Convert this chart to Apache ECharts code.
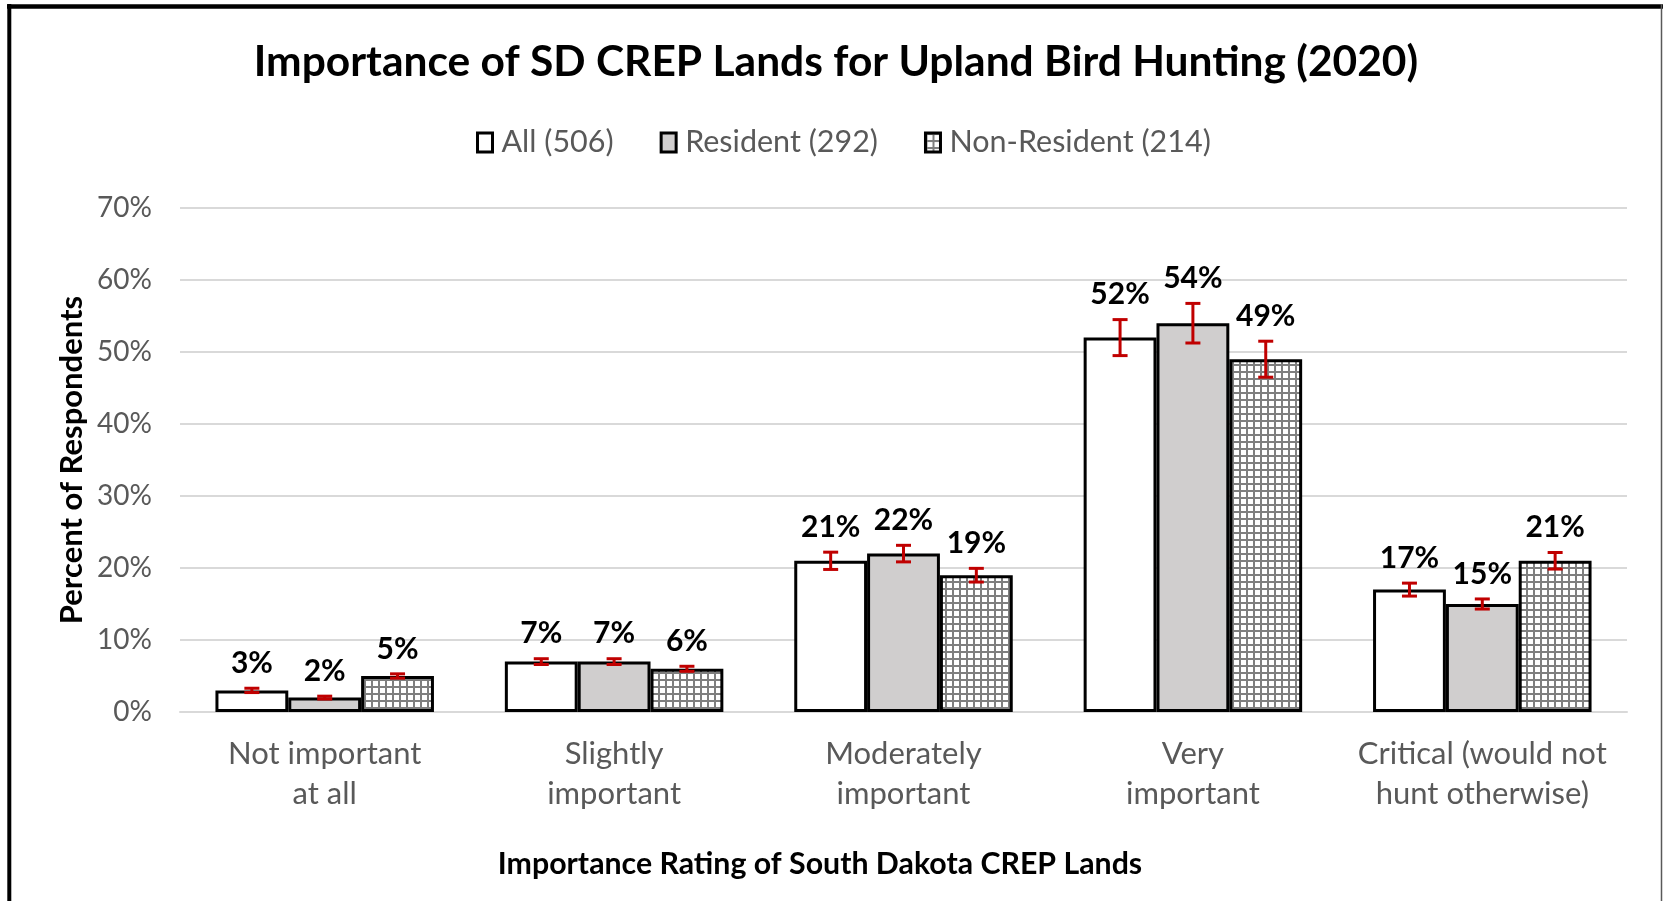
<!DOCTYPE html>
<html>
<head>
<meta charset="utf-8">
<title>Importance of SD CREP Lands for Upland Bird Hunting (2020)</title>
<script src="https://cdn.jsdelivr.net/npm/echarts@6/dist/echarts.min.js"></script>
<style>
  html, body { margin: 0; padding: 0; background: #fff; }
  #chart { width: 1663px; height: 901px; }
</style>
</head>
<body>
<div id="chart"></div>
<script>
// categories on the x axis
const categories = [
  'Not important\nat all',
  'Slightly\nimportant',
  'Moderately\nimportant',
  'Very\nimportant',
  'Critical (would not\nhunt otherwise)'
];

const seriesNames = ['All (506)', 'Resident (292)', 'Non-Resident (214)'];

// percent of respondents
const allValues = [3, 7, 21, 52, 17];
const residentValues = [2, 7, 22, 54, 15];
const nonResidentValues = [5, 6, 19, 49, 21];

// error bar half-widths (percentage points)
const allErrors = [0.3, 0.4, 1.2, 2.5, 0.9];
const residentErrors = [0.2, 0.4, 1.15, 2.75, 0.7];
const nonResidentErrors = [0.3, 0.35, 0.95, 2.5, 1.15];

const yMin = 0;
const yMax = 70;
const yStep = 10;

const chart = echarts.init(document.getElementById('chart'));

// grey grid hatch used by the non-resident bars
const makeHatch = () => {
  const c = document.createElement('canvas');
  c.width = 7;
  c.height = 7;
  const ctx = c.getContext('2d');
  ctx.fillStyle = '#ffffff';
  ctx.fillRect(0, 0, 7, 7);
  ctx.fillStyle = '#7f7f7f';
  ctx.fillRect(0, 0, 7, 2);
  ctx.fillRect(0, 0, 2, 7);
  return c;
};
const hatch = { image: makeHatch(), repeat: 'repeat' };

const barGapRatio = 0.245;
const fontFamily = 'Lato, "Noto Sans", sans-serif';

// error bars + value labels, drawn from the y scale
const errorSeries = (values, errors, k) => ({
  type: 'custom',
  silent: true,
  z: 10,
  encode: { x: 0, y: 1 },
  data: values.map((v, i) => [i, v, errors[i]]),
  renderItem: (params, api) => {
    const idx = api.value(0);
    const v = api.value(1);
    const e = api.value(2);
    const band = api.size([1, 0])[0];
    const barW = band * (1 - barGapRatio) / 3;
    const cx = api.coord([idx, v])[0] + (k - 1) * barW;
    const yTop = api.coord([idx, v + e])[1];
    const yBot = api.coord([idx, v - e])[1];
    const cap = 7.5;
    const stroke = { stroke: '#c00000', lineWidth: 3 };
    return {
      type: 'group',
      children: [
        { type: 'line', shape: { x1: cx, y1: yTop, x2: cx, y2: yBot }, style: stroke },
        { type: 'line', shape: { x1: cx - cap, y1: yTop, x2: cx + cap, y2: yTop }, style: stroke },
        { type: 'line', shape: { x1: cx - cap, y1: yBot, x2: cx + cap, y2: yBot }, style: stroke },
        {
          type: 'text',
          x: cx,
          y: yTop - 10,
          style: {
            text: v + '%',
            align: 'center',
            verticalAlign: 'bottom',
            fontFamily: fontFamily,
            fontWeight: 'bold',
            fontSize: 30,
            fill: '#000'
          }
        }
      ]
    };
  }
});

const barSeries = (name, values, color) => ({
  name: name,
  type: 'bar',
  data: values,
  barGap: '0%',
  barCategoryGap: (barGapRatio * 100) + '%',
  itemStyle: { color: color, borderColor: '#000', borderWidth: 3 }
});

const option = {
  animation: false,
  backgroundColor: '#fff',
  grid: { left: 180, right: 36, top: 208, bottom: 189 },
  legend: {
    data: seriesNames,
    left: 476,
    top: 127,
    padding: 0,
    icon: 'rect',
    itemWidth: 15,
    itemHeight: 19,
    itemGap: 46,
    textStyle: {
      color: '#595959', fontFamily: fontFamily, fontSize: 30.5,
      padding: [0, 0, 0, 4]
    },
    itemStyle: { borderColor: '#000', borderWidth: 3 }
  },
  xAxis: {
    type: 'category',
    data: categories,
    axisTick: { show: false },
    axisLine: { lineStyle: { color: '#d9d9d9', width: 2 } },
    axisLabel: {
      color: '#595959',
      fontFamily: fontFamily,
      fontSize: 31,
      lineHeight: 40,
      margin: 22,
      interval: 0
    }
  },
  yAxis: {
    type: 'value',
    min: yMin,
    max: yMax,
    interval: yStep,
    axisLine: { show: false },
    axisTick: { show: false },
    splitLine: { lineStyle: { color: '#d9d9d9', width: 2 } },
    axisLabel: {
      formatter: '{value}%',
      color: '#595959',
      fontFamily: fontFamily,
      fontSize: 28,
      margin: 28
    }
  },
  graphic: [
    {
      type: 'text', x: 836, y: 62,
      style: {
        text: 'Importance of SD CREP Lands for Upland Bird Hunting (2020)',
        align: 'center', verticalAlign: 'middle',
        fontFamily: fontFamily, fontWeight: 'bold', fontSize: 42.5, fill: '#000'
      }
    },
    {
      type: 'text', x: 820, y: 864,
      style: {
        text: 'Importance Rating of South Dakota CREP Lands',
        align: 'center', verticalAlign: 'middle',
        fontFamily: fontFamily, fontWeight: 'bold', fontSize: 30.3, fill: '#000'
      }
    },
    {
      type: 'text', x: 72, y: 460, rotation: Math.PI / 2,
      style: {
        text: 'Percent of Respondents',
        align: 'center', verticalAlign: 'middle',
        fontFamily: fontFamily, fontWeight: 'bold', fontSize: 31, fill: '#000'
      }
    },
    // chart frame: heavy top/left, thin right, nothing at the bottom
    { type: 'line', shape: { x1: 7, y1: 6.5, x2: 1663, y2: 6.5 }, style: { stroke: '#000', lineWidth: 4.5 } },
    { type: 'line', shape: { x1: 9.3, y1: 4, x2: 9.3, y2: 901 }, style: { stroke: '#000', lineWidth: 4 } },
    { type: 'line', shape: { x1: 1661.5, y1: 4, x2: 1661.5, y2: 901 }, style: { stroke: '#595959', lineWidth: 1.5 } }
  ],
  series: [
    barSeries(seriesNames[0], allValues, '#ffffff'),
    barSeries(seriesNames[1], residentValues, '#d0cece'),
    barSeries(seriesNames[2], nonResidentValues, hatch),
    errorSeries(allValues, allErrors, 0),
    errorSeries(residentValues, residentErrors, 1),
    errorSeries(nonResidentValues, nonResidentErrors, 2)
  ]
};

chart.setOption(option);
</script>
</body>
</html>
